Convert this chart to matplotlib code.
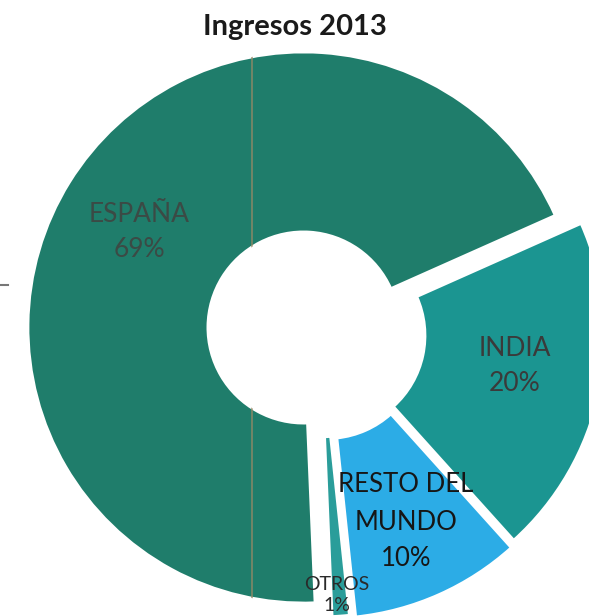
import matplotlib.pyplot as plt
from matplotlib.lines import Line2D

# datos del gráfico
regiones = ['ESPAÑA', 'INDIA', 'RESTO DEL\nMUNDO', 'OTROS']
porcentajes = [69, 20, 10, 1]
colores = ['#1f7d6b', '#1b9591', '#2cace6', '#2a9d9a']

# desplazamiento de cada porción (en radios) como en el original escaneado
desplaz = [(0.0, 0.0), (0.094, -0.029), (0.085, -0.056), (0.062, -0.05)]

# pixeles -> datos: centro (303.5, 327.5), radio 275.5 px
CX, CY, R = 303.5, 327.5, 275.5
W, H = 589, 616


def px(x, y):
    return (x - CX) / R, (CY - y) / R


fig = plt.figure(figsize=(W / 100, H / 100), dpi=100)
ax = fig.add_axes([0, 0, 1, 1])

wedges, _ = ax.pie(porcentajes, colors=colores, startangle=272.4,
                   counterclock=False, radius=1,
                   wedgeprops=dict(width=0.653, edgecolor='white', linewidth=2))
for w, d in zip(wedges, desplaz):
    w.set_center(d)

ax.set_aspect('auto')
x0, y1 = px(0, 0)
x1, y0 = px(W, H)
ax.set_xlim(x0, x1)
ax.set_ylim(y0, y1)
ax.axis('off')

# pliegue del papel escaneado sobre la porción de España
lx, _ = px(252, 0)
pliegue = Line2D([lx, lx], [y0, y1], color='#9a8a66', lw=1.2, alpha=0.8)
ax.add_line(pliegue)
pliegue.set_clip_path(wedges[0])
ax.add_line(Line2D([0, 0.014], [0.537, 0.537], transform=ax.transAxes,
                   color='#777777', lw=1.5))

fuente = 'Lato'
etiquetas = [
    ('ESPAÑA\n69%', px(139, 232), 19, '#3b4a45', 1.5),
    ('INDIA\n20%', px(515, 366), 19, '#3a3a3a', 1.5),
    ('RESTO DEL\nMUNDO\n10%', px(406, 522), 18.5, '#161616', 1.6),
    ('OTROS\n1%', px(337, 595), 14, '#2a2a2a', 1.3),
]
for txt, (x, y), fs, col, ls in etiquetas:
    ax.text(x, y, txt, ha='center', va='center', fontsize=fs, color=col,
            family=fuente, linespacing=ls)

fig.text(295 / W, 1 - 27 / H, 'Ingresos 2013', ha='center', va='center',
         fontsize=21, fontweight='bold', family=fuente, color='#1a1a1a')

plt.savefig('out.png', dpi=100)
